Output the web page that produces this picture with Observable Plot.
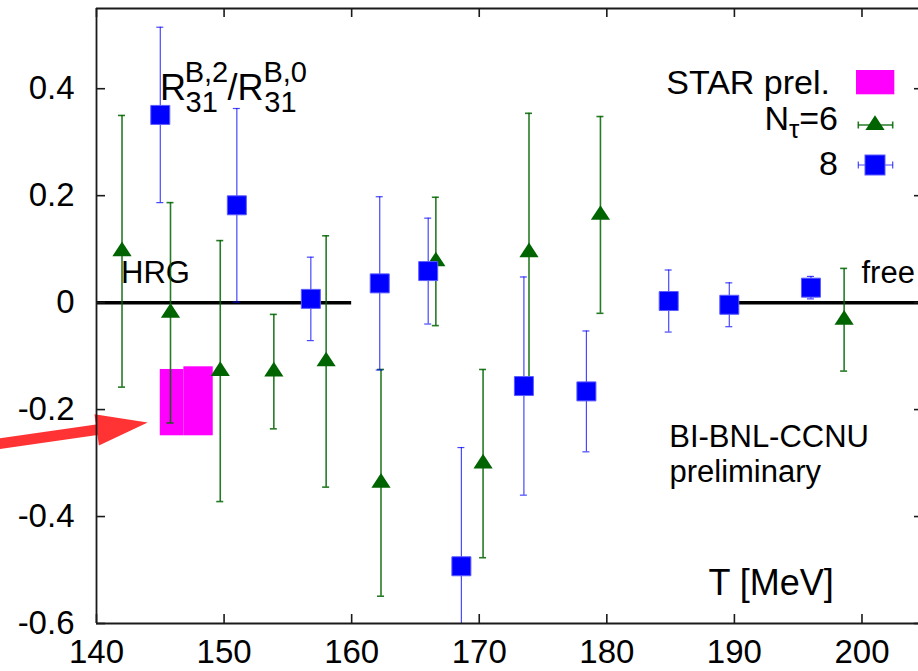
<!DOCTYPE html>
<html>
<head>
<meta charset="utf-8">
<script src="https://cdn.jsdelivr.net/npm/d3@7"></script>
<script src="https://cdn.jsdelivr.net/npm/@observablehq/plot@0.6"></script>
<style>
  html, body { margin: 0; padding: 0; background: #fff; }
  #chart { width: 918px; height: 671px; overflow: hidden; }
  #chart svg { display: block; }
</style>
</head>
<body>
<div id="chart"></div>
<script>
// ---------------- data ----------------
// N_tau = 6 (green triangles): temperature [MeV], ratio, symmetric error
const nt6T   = [142.0, 145.8, 149.7, 153.9, 158.0, 162.3, 166.6, 170.3, 173.9, 179.5, 198.6];
const nt6R   = [0.096, -0.019, -0.128, -0.129, -0.110, -0.337, 0.077, -0.301, 0.094, 0.164, -0.032];
const nt6Err = [0.254, 0.206, 0.244, 0.107, 0.235, 0.212, 0.120, 0.176, 0.260, 0.184, 0.096];

// N_tau = 8 (blue squares)
const nt8T   = [145.0, 151.0, 156.8, 162.2, 166.0, 168.6, 173.5, 178.4, 184.85, 189.6, 196.0];
const nt8R   = [0.351, 0.182, 0.007, 0.036, 0.059, -0.493, -0.156, -0.166, 0.003, -0.004, 0.028];
const nt8Err = [0.164, 0.181, 0.078, 0.162, 0.099, 0.222, 0.204, 0.113, 0.058, 0.041, 0.021];

// STAR preliminary boxes
const starTlow  = [145.0, 146.85];
const starThigh = [146.85, 149.15];
const starRlow  = [-0.249, -0.249];
const starRhigh = [-0.125, -0.120];

// HRG and free limits
const limitNames = ["HRG", "free"];
const limitTlow  = [140, 190];
const limitThigh = [160, 204.43];
const limitR     = [0, 0];

// axes
const xTicks  = [140, 150, 160, 170, 180, 190, 200];
const yTicks  = [-0.6, -0.4, -0.2, 0, 0.2, 0.4];
const xDomain = [140, 204.43];
const yDomain = [-0.6, 0.55];

const legendLabels = ["STAR prel.", "Nτ=6", "8"];

// ---------------- tables ----------------
const nt6 = nt6T.map((T, i) => ({T, R: nt6R[i], e: nt6Err[i]}));
const nt8 = nt8T.map((T, i) => ({T, R: nt8R[i], e: nt8Err[i]}));
const star = starTlow.map((lo, i) => ({lo, hi: starThigh[i], rlo: starRlow[i], rhi: starRhigh[i]}));
const limits = limitNames.map((name, i) => ({name, lo: limitTlow[i], hi: limitThigh[i], R: limitR[i]}));

// ---------------- styles ----------------
const FONT = "'Liberation Sans', Arial, Helvetica, sans-serif";
const FRAME = "#1a1a1a";
const GREEN = "#006400";
const BLUE = "#0000ff";
const MAGENTA = "#ff00ff";
const RED = "#ff3333";

const triSymbol = {
  draw(ctx) {
    ctx.moveTo(0, -9.8);
    ctx.lineTo(9.6, 4.9);
    ctx.lineTo(-9.6, 4.9);
    ctx.closePath();
  }
};

function addText(g, x, y, str, size, anchor = "start") {
  return g.append("text")
    .attr("x", x).attr("y", y)
    .attr("font-size", size)
    .attr("text-anchor", anchor)
    .attr("fill", "#000")
    .text(str);
}

// text annotations, anchored in data coordinates through Plot's scales
const annotations = (index, scales) => {
  const X = scales.x, Y = scales.y;
  const g = d3.create("svg:g").attr("font-family", FONT);
  const tx = X(145.02), ty = Y(0.3776);
  [["R", 36, 0, 0], ["31", 29, 25.5, 11.7], ["B,2", 29, 24.6, -18.3],
   ["/", 36, 67.5, 0], ["R", 36, 77.5, 0], ["31", 29, 104.3, 11.7], ["B,0", 29, 103.4, -18.3]]
    .forEach(([s, fs, dx, dy]) => addText(g, tx + dx, ty + dy, s, fs));
  addText(g, X(141.96), Y(0.0355), limitNames[0], 31);
  addText(g, X(200.0), Y(0.035), limitNames[1], 31);
  addText(g, X(184.93), Y(-0.2705), "BI-BNL-CCNU", 31);
  addText(g, X(184.95), Y(-0.336), "preliminary", 31);
  addText(g, X(188.0), Y(-0.5477), "T [MeV]", 36);
  return g.node();
};

// red arrow pointing at the STAR box
const arrow = (index, scales) => {
  const x0 = scales.x(132.1), y0 = scales.y(-0.266);
  const x1 = scales.x(144.05), y1 = scales.y(-0.225);
  const dx = x1 - x0, dy = y1 - y0, L = Math.hypot(dx, dy);
  const ux = dx / L, uy = dy / L, nx = -uy, ny = ux;
  const hl = 51.5, hw = 15.8, sw = 5.3;
  const bx = x1 - ux * hl, by = y1 - uy * hl;
  const pts = [
    [x0 + nx * sw, y0 + ny * sw], [bx + nx * sw, by + ny * sw], [bx + nx * hw, by + ny * hw],
    [x1, y1],
    [bx - nx * hw, by - ny * hw], [bx - nx * sw, by - ny * sw], [x0 - nx * sw, y0 - ny * sw]
  ];
  return d3.create("svg:path")
    .attr("d", "M" + pts.map(p => p.join(",")).join("L") + "Z")
    .attr("fill", RED)
    .node();
};

// legend in the top-right corner
const legend = (index, scales, values, dims) => {
  const R = dims.width - dims.marginRight;
  const T = dims.marginTop;
  const g = d3.create("svg:g").attr("font-family", FONT);
  // row 1
  addText(g, R - 88, T + 86.3, legendLabels[0], 34, "end");
  g.append("rect").attr("x", R - 62).attr("y", T + 62).attr("width", 38.3).attr("height", 24.3).attr("fill", MAGENTA);
  // row 2
  const t = g.append("text").attr("x", R - 80).attr("y", T + 122)
    .attr("font-size", 34).attr("text-anchor", "end").attr("fill", "#000");
  t.append("tspan").text("N");
  t.append("tspan").attr("font-size", 26).attr("dy", 8).text("τ");
  t.append("tspan").attr("dy", -8).text("=6");
  // row 3
  addText(g, R - 80, T + 167, legendLabels[2], 34, "end");

  const errSym = (cy, color, width, opacity) => {
    const s = g.append("g").attr("stroke", color).attr("stroke-width", width).attr("stroke-opacity", opacity);
    s.append("line").attr("x1", R - 59.7).attr("x2", R - 25.3).attr("y1", cy).attr("y2", cy);
    s.append("line").attr("x1", R - 59.7).attr("x2", R - 59.7).attr("y1", cy - 3.5).attr("y2", cy + 3.5);
    s.append("line").attr("x1", R - 25.3).attr("x2", R - 25.3).attr("y1", cy - 3.5).attr("y2", cy + 3.5);
  };
  errSym(T + 117, GREEN, 1.6, 0.85);
  const cx = R - 43;
  g.append("path")
    .attr("d", `M${cx},${T + 117 - 9.8}L${cx + 9.6},${T + 117 + 4.9}L${cx - 9.6},${T + 117 + 4.9}Z`)
    .attr("fill", GREEN);
  errSym(T + 157, BLUE, 1.2, 0.72);
  g.append("rect").attr("x", cx - 10).attr("y", T + 157 - 10).attr("width", 20).attr("height", 20)
    .attr("fill", BLUE).attr("stroke", "#5c5cff").attr("stroke-width", 1);
  return g.node();
};

const errMarks = (data, color, width, opacity) => [
  Plot.ruleX(data, {x: "T", y1: d => d.R - d.e, y2: d => d.R + d.e, stroke: color, strokeWidth: width, strokeOpacity: opacity, clip: true}),
  Plot.ruleY(data, {y: d => d.R - d.e, x1: "T", x2: "T", insetLeft: -3.5, insetRight: -3.5, stroke: color, strokeWidth: width, strokeOpacity: opacity, clip: true}),
  Plot.ruleY(data, {y: d => d.R + d.e, x1: "T", x2: "T", insetLeft: -3.5, insetRight: -3.5, stroke: color, strokeWidth: width, strokeOpacity: opacity, clip: true})
];

const plot = Plot.plot({
  width: 918,
  height: 671,
  marginLeft: 96,
  marginRight: 0,
  marginTop: 8,
  marginBottom: 48,
  style: {fontFamily: FONT, fontSize: "33px", background: "#fff", color: "#000"},
  x: {domain: xDomain, label: null},
  y: {domain: yDomain, label: null},
  marks: [
    Plot.rect(star, {x1: "lo", x2: "hi", y1: "rlo", y2: "rhi", fill: MAGENTA}),
    annotations,
    arrow,
    Plot.ruleY(limits, {x1: "lo", x2: "hi", y: "R", stroke: "#000", strokeWidth: 3.5}),
    ...errMarks(nt6, GREEN, 1.6, 0.85),
    Plot.dot(nt6, {x: "T", y: "R", symbol: triSymbol, r: 5, fill: GREEN, stroke: "none"}),
    ...errMarks(nt8, BLUE, 1.2, 0.72),
    Plot.dot(nt8, {x: "T", y: "R", symbol: "square", r: 10.72, fill: BLUE, stroke: "#5c5cff", strokeWidth: 1}),
    // frame (left, bottom, top)
    Plot.ruleX([xDomain[0]], {stroke: FRAME, strokeWidth: 1.8}),
    Plot.ruleY(yDomain, {stroke: FRAME, strokeWidth: 1.8}),
    // inward ticks
    Plot.ruleX(xTicks, {x: d => d, y1: yDomain[0], y2: yDomain[0], insetTop: -9, stroke: FRAME, strokeWidth: 1.6}),
    Plot.ruleX(xTicks, {x: d => d, y1: yDomain[1], y2: yDomain[1], insetBottom: -9, stroke: FRAME, strokeWidth: 1.6}),
    Plot.ruleY(yTicks, {y: d => d, x1: xDomain[0], x2: xDomain[0], insetRight: -9, stroke: FRAME, strokeWidth: 1.6}),
    Plot.ruleY(yTicks, {y: d => d, x1: xDomain[1], x2: xDomain[1], insetLeft: -4, stroke: FRAME, strokeWidth: 1.6}),
    Plot.axisX(xTicks, {tickSize: 0, tickPadding: 16, tickFormat: d => String(d), fontSize: 33, label: null}),
    Plot.axisY(yTicks, {tickSize: 0, tickPadding: 22, tickFormat: d => String(d), fontSize: 33, label: null}),
    legend
  ]
});

document.getElementById("chart").appendChild(plot);
</script>
</body>
</html>
